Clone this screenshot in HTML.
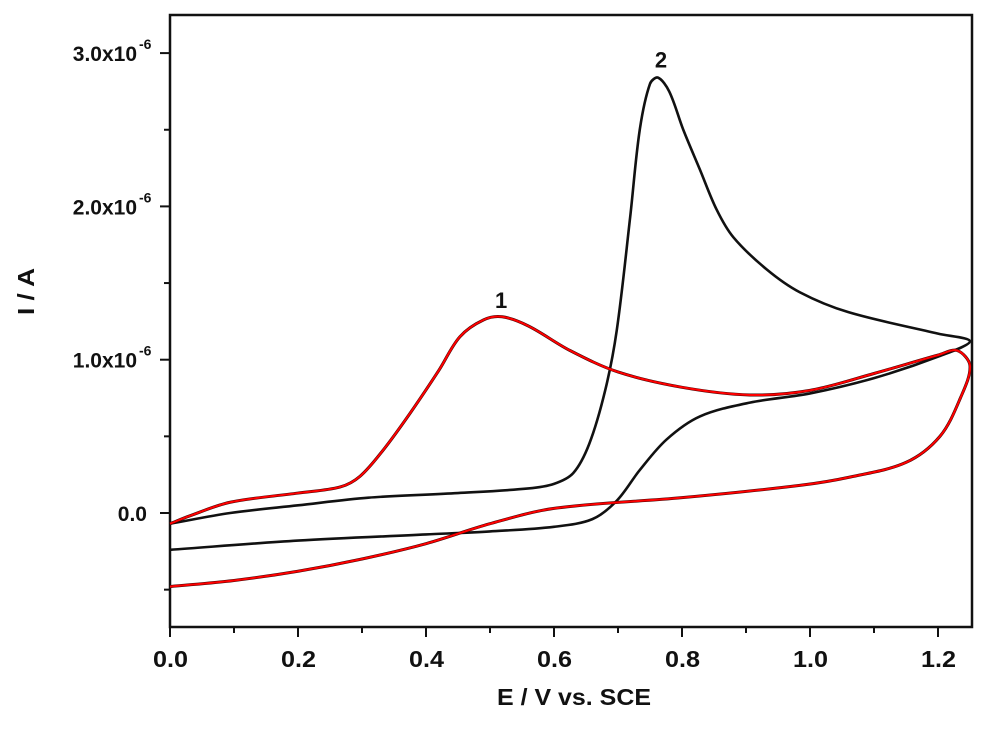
<!DOCTYPE html>
<html><head><meta charset="utf-8"><style>
body{margin:0;background:#fff}
svg text{font-family:"Liberation Sans",Arial,sans-serif;font-weight:bold;fill:#111}
</style></head><body>
<svg id="chart" width="1000" height="737" viewBox="0 0 1000 737" xmlns="http://www.w3.org/2000/svg">
<g id="plot"></g>
</svg>
<script>
const xTicks=[0.0,0.2,0.4,0.6,0.8,1.0,1.2];
const xTickLabels=["0.0","0.2","0.4","0.6","0.8","1.0","1.2"];
const yTicks=[0,1,2,3];
const yTickLabels=["0.0","1.0x10","2.0x10","3.0x10"];
const redE=[0,0.03,0.094,0.2,0.266,0.297,0.333,0.375,0.42,0.453,0.49,0.519,0.56,0.625,0.7,0.8,0.906,1.0,1.1,1.2,1.23,1.25,1.235,1.203,1.15,1.063,0.984,0.8,0.6,0.5,0.4,0.3,0.2,0.1,0];
const redI=[-0.07,-0.02,0.07,0.13,0.17,0.24,0.41,0.65,0.93,1.15,1.26,1.28,1.22,1.06,0.92,0.82,0.77,0.8,0.91,1.03,1.06,0.96,0.75,0.5,0.33,0.235,0.18,0.1,0.03,-0.07,-0.2,-0.3,-0.38,-0.44,-0.48];
const blackE=[0,0.094,0.2,0.31,0.45,0.56,0.6,0.63,0.655,0.68,0.698,0.719,0.734,0.75,0.7625,0.78,0.802,0.828,0.854,0.88,0.932,0.984,1.06,1.2,1.25,1.2,1.1,1.0,0.906,0.828,0.776,0.734,0.698,0.66,0.6,0.5,0.4,0.2,0];
const blackI=[-0.07,0.0,0.05,0.1,0.13,0.16,0.19,0.26,0.45,0.8,1.19,1.93,2.5,2.8,2.84,2.75,2.5,2.24,1.98,1.8,1.59,1.44,1.31,1.17,1.12,1.02,0.88,0.78,0.72,0.63,0.48,0.28,0.08,-0.04,-0.09,-0.12,-0.14,-0.18,-0.24];
const L=170,R=972,T=15,B=627;
const X=e=>L+e*640;
const Y=v=>513-v*153.3;
const NS="http://www.w3.org/2000/svg";
const g=document.getElementById('plot');
function mk(tag,attrs,parent){const el=document.createElementNS(NS,tag);for(const k in attrs)el.setAttribute(k,attrs[k]);(parent||g).appendChild(el);return el;}
function smooth(xs,ys){const p=xs.map((x,i)=>[X(x),Y(ys[i])]);const n=p.length;
const d=[];for(let i=0;i<n-1;i++)d.push(Math.hypot(p[i+1][0]-p[i][0],p[i+1][1]-p[i][1])||1e-6);
const m=p.map((q,i)=>{if(i===0)return [(p[1][0]-q[0])/d[0],(p[1][1]-q[1])/d[0]];if(i===n-1)return [(q[0]-p[i-1][0])/d[i-1],(q[1]-p[i-1][1])/d[i-1]];const s=d[i-1]+d[i];return [(p[i+1][0]-p[i-1][0])/s,(p[i+1][1]-p[i-1][1])/s];});
let s=`M${p[0][0]},${p[0][1]}`;
for(let i=0;i<n-1;i++){const h=d[i]/3;s+=` C${p[i][0]+m[i][0]*h},${p[i][1]+m[i][1]*h} ${p[i+1][0]-m[i+1][0]*h},${p[i+1][1]-m[i+1][1]*h} ${p[i+1][0]},${p[i+1][1]}`;}return s;}
let el;
el=mk('rect',{x:L,y:T,width:R-L,height:B-T,fill:'none',stroke:'#111','stroke-width':2.5});


xTicks.forEach((t,i)=>{
 el=mk('line',{x1:X(t),x2:X(t),y1:B,y2:B+10,stroke:'#111','stroke-width':2});
 
 
 el=mk('line',{x1:X(t+0.1),x2:X(t+0.1),y1:B,y2:B+6,stroke:'#111','stroke-width':2});
 
 
 el=mk('text',{x:X(t)-17,y:B+40,'font-size':23,textLength:35,lengthAdjust:'spacingAndGlyphs'});
 el.textContent=xTickLabels[i];
 
 
});
yTicks.forEach((t,i)=>{
 el=mk('line',{x1:L-10,x2:L,y1:Y(t),y2:Y(t),stroke:'#111','stroke-width':2});
 
 
 el=mk('line',{x1:L-6,x2:L,y1:Y(t-0.5),y2:Y(t-0.5),stroke:'#111','stroke-width':2});
 
 
 el=mk('text',{x:t===0?147:137,y:Y(t)+8,'text-anchor':'end','font-size':21});
 el.textContent=yTickLabels[i];
 
 
 if(t!==0){const s=mk('text',{x:139,y:Y(t)-4,'font-size':14});s.textContent='-6';
 
 }
});
el=mk('path',{d:smooth(blackE,blackI),fill:'none',stroke:'#111','stroke-width':2.6});


el=mk('path',{d:smooth(redE,redI),fill:'none',stroke:'#3a0000','stroke-width':3});


el=mk('path',{d:smooth(redE,redI),fill:'none',stroke:'#ff0000','stroke-width':2});


el=mk('text',{x:X(0.519)-1,y:Y(1.28)-9,'text-anchor':'middle','font-size':22});el.textContent='1';


el=mk('text',{x:X(0.7625)+3,y:Y(2.84)-10,'text-anchor':'middle','font-size':22});el.textContent='2';


el=mk('text',{x:497,y:705,'font-size':23,textLength:154,lengthAdjust:'spacingAndGlyphs'});el.textContent='E / V vs. SCE';


el=mk('text',{x:34,y:315,'font-size':23,textLength:47,lengthAdjust:'spacingAndGlyphs',transform:'rotate(-90 34 315)'});el.textContent='I / A';


</script>
</body></html>
